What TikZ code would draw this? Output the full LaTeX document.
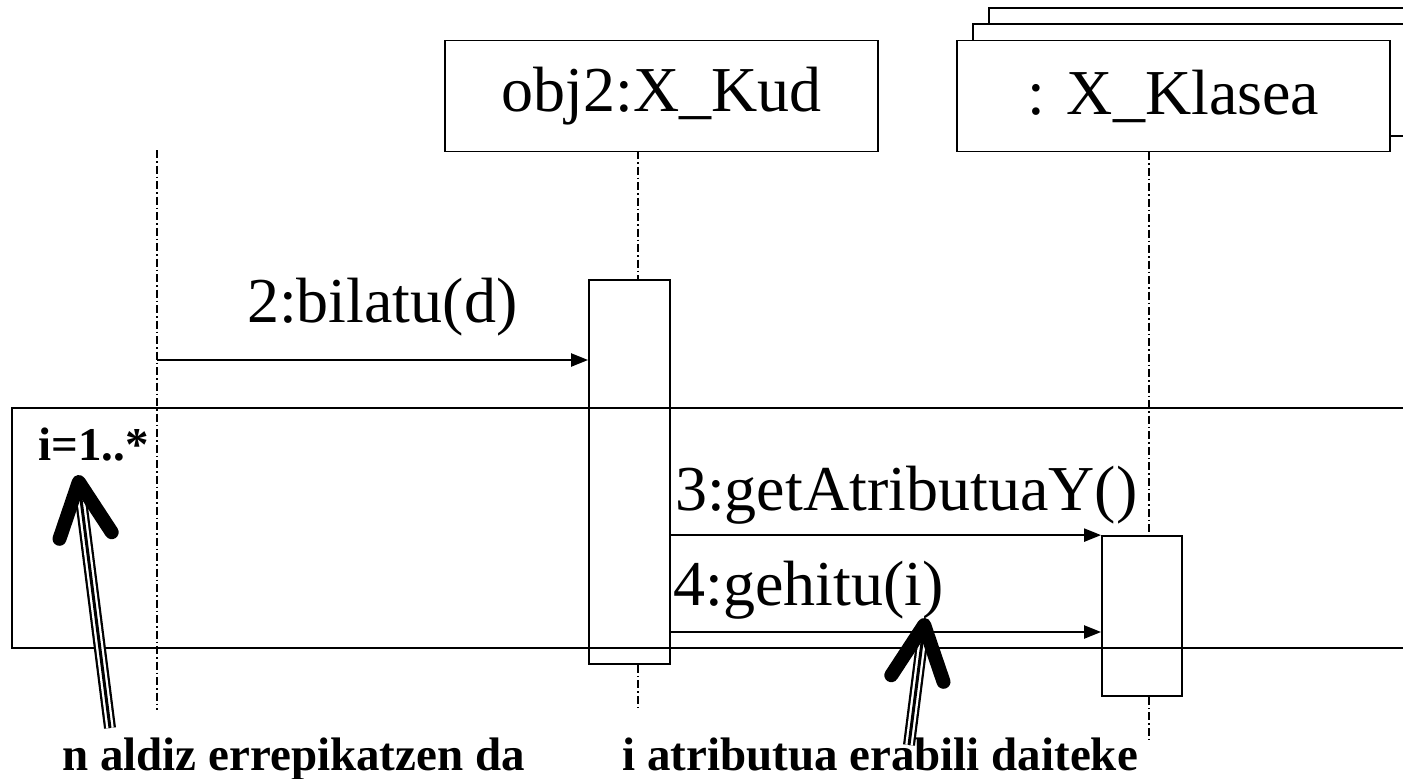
\documentclass[tikz,border=0pt]{standalone}
\usepackage{fontspec}
\setmainfont{Liberation Serif}
\usetikzlibrary{calc,arrows.meta}
\begin{document}
\begin{tikzpicture}[x=1pt,y=-1pt,
  objbox/.style={draw, line width=1.8pt, fill=white, minimum width=433pt, minimum height=111pt, inner sep=0pt, font=\fontsize{64}{72}\selectfont},
  backbox/.style={draw, line width=1.8pt, fill=white},
  actbox/.style={draw, line width=1.8pt, inner sep=0pt},
  life/.style={line width=1.3pt, dash pattern=on 8pt off 3pt on 1.5pt off 3pt},
  msg/.style={line width=2.2pt, -{Triangle[length=17pt,width=13pt]}},
  lbl/.style={font=\fontsize{64}{72}\selectfont, inner sep=0pt, anchor=base west},
  note/.style={font=\bfseries\fontsize{47}{54}\selectfont, inner sep=0pt, anchor=base west},
  loopbox/.style={draw, line width=1.8pt},
  bigouter/.style={line width=12pt, line cap=butt},
  biggap/.style={line width=7.5pt, white, line cap=butt},
  bigcore/.style={line width=3pt, line cap=butt},
  bighead/.style={line width=14pt, line cap=round, line join=round},
]
\useasboundingbox (0,0) rectangle (1403,779);
\clip (0,0) rectangle (1403,779);

% stacked back boxes of the multi-object
\draw[backbox] (989,8) rectangle (1500,120);
\draw[backbox] (973,24) rectangle (1500,136);

% object boxes
\node[objbox] (obj2) at (661.5,96) {obj2:X\_Kud};
\node[objbox] (klasea) at (1173.5,96) {: X\_Klasea};

% activation boxes
\node[actbox, minimum width=81pt, minimum height=384pt] (act1) at (629.5,472) {};
\node[actbox, minimum width=80pt, minimum height=160pt] (act2) at (1142,616) {};

% lifelines
\coordinate (l1top) at (157,150);
\coordinate (l1bot) at (157,710);
\draw[life] (l1top) -- (l1bot);
\coordinate (l2a) at (638,151);
\coordinate (l2bot) at (638,710);
\draw[life] (l2a) -- (l2a |- act1.north);
\draw[life] (l2a |- act1.south) -- (l2bot);
\coordinate (l3a) at (1149,152);
\coordinate (l3bot) at (1149,740);
\draw[life] (l3a) -- (l3a |- act2.north);
\draw[life] (l3a |- act2.south) -- (l3bot);

% loop frame
\coordinate (loopnw) at (12,408);
\coordinate (loopse) at (1460,648);
\draw[loopbox] (loopnw) rectangle (loopse);

% messages
\coordinate (s2) at (157,360);
\draw[msg] (s2) -- (s2 -| act1.west);
\node[lbl] (m2) at (247,322) {2:bilatu(d)};
\coordinate (s3) at (act1.east |- act2.north);
\draw[msg] (s3) -- (act2.north west);
\node[lbl] (m3) at (675,510) {3:getAtributuaY()};
\coordinate (s4) at (670,632);
\draw[msg] (s4) -- (s4 -| act2.west);
\node[lbl] (m4) at (673,605) {4:gehitu(i)};

% texts
\node[note] (guard) at (38,460) {i=1..*};
\node[note] (n1) at (62,770) {n aldiz errepikatzen da};
\node[note] (n2) at (622,770) {i atributua erabili daiteke};

% big annotation arrows
\coordinate (t1) at (110,728);
\coordinate (h1) at (78.8,482);
\coordinate (t2) at (909,745);
\coordinate (h2) at (924.2,625);
\foreach \t/\h in {t1/h1, t2/h2}{
  \draw[bigouter] (\t) -- ($(\h)!10pt!(\t)$);
  \draw[biggap] (\t) -- ($(\h)!10pt!(\t)$);
  \draw[bigcore] (\t) -- ($(\h)!10pt!(\t)$);
  \draw[bighead] ($(\h)!60pt!26:(\t)$) -- (\h) -- ($(\h)!60pt!-26:(\t)$);
}
\end{tikzpicture}
\end{document}
